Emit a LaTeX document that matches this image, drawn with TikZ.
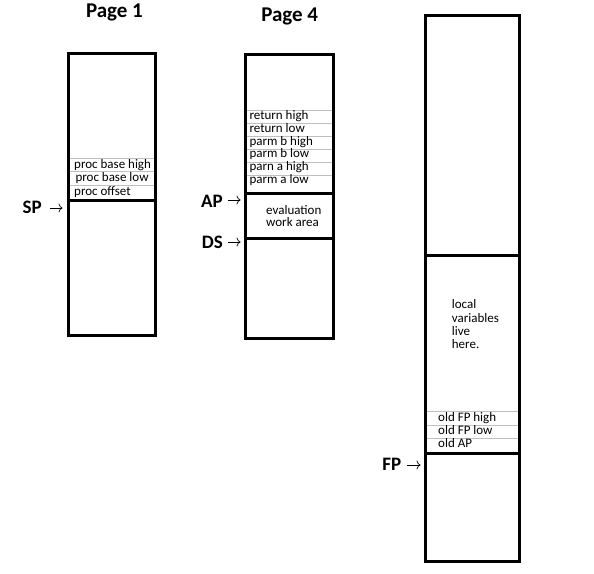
\documentclass[tikz,border=0pt]{standalone}
\usepackage{fontspec}
\setmainfont{Carlito}
\usetikzlibrary{arrows.meta}
\begin{document}
\begin{tikzpicture}[x=1pt,y=-1pt,
  box/.style={line width=3pt},
  row/.style={draw=black!25, line width=0.8pt},
  cell/.style={anchor=base west, font=\fontsize{13}{14}\selectfont, inner sep=0pt},
  title/.style={anchor=base, font=\fontsize{21}{22}\selectfont\bfseries, inner sep=0pt},
  ptr/.style={anchor=base east, font=\fontsize{19}{20}\selectfont\bfseries, inner sep=0pt},
  ptrarrow/.style={-{To[length=4pt,width=9pt]}, line width=0.7pt}]
\useasboundingbox (0,0) rectangle (594,573);

% titles
\node[title] (t1) at (114.5,17.5) {Page 1};
\node[title] (t4) at (289.7,21.7) {Page 4};

% ---------- Page 1 stack ----------
\draw[box] (68,53) rectangle (155.5,335.5);
\draw[box] (68,200.5) -- (155.5,200.5);
\foreach \yy in {158.3,171.7,185.3} \draw[row] (69.5,\yy) -- (154,\yy);
\node[cell] (pbh) at (74,168.3) {proc base high};
\node[cell] (pbl) at (75.3,181.7) {proc base low};
\node[cell] (pof) at (74,195.3) {proc offset};
\node[ptr] (sp) at (42,213) {SP};
\coordinate (spa) at (50,208);
\coordinate (spb) at (62.5,208);
\draw[ptrarrow] (spa) -- (spb);

% ---------- Page 4 stack ----------
\draw[box] (245.5,54.5) rectangle (333,338);
\draw[box] (245.5,193.2) -- (333,193.2);
\draw[box] (245.5,238.5) -- (333,238.5);
\foreach \yy in {110.7,123.3,136.3,149.3,162.3,175.3} \draw[row] (247,\yy) -- (331.5,\yy);
\node[cell] (rh) at (249.3,119.3) {return high};
\node[cell] (rl) at (249.3,132) {return low};
\node[cell] (pbh4) at (249.3,145) {parm b high};
\node[cell] (pbl4) at (249.3,157.8) {parm b low};
\node[cell] (pah) at (249.3,170.8) {parn a high};
\node[cell] (pal) at (249.3,183.8) {parm a low};
\node[cell] (ev) at (266,214) {evaluation};
\node[cell] (wa) at (266,226.8) {work area};
\node[ptr] (ap) at (223,207) {AP};
\node[ptr] (ds) at (223,248.5) {DS};
\coordinate (apa) at (228,200);
\coordinate (apb) at (240.5,200);
\draw[ptrarrow] (apa) -- (apb);
\coordinate (dsa) at (228,242);
\coordinate (dsb) at (240.5,242);
\draw[ptrarrow] (dsa) -- (dsb);

% ---------- right stack ----------
\draw[box] (425.5,15.3) rectangle (519.7,561.5);
\draw[box] (425.5,255.2) -- (519.7,255.2);
\draw[box] (425.5,453.8) -- (519.7,453.8);
\foreach \yy in {411.7,425,438.3} \draw[row] (427,\yy) -- (518,\yy);
\node[cell] (lv1) at (451.7,308.8) {local};
\node[cell] (lv2) at (451.7,322) {variables};
\node[cell] (lv3) at (451.7,335) {live};
\node[cell] (lv4) at (451.7,348) {here.};
\node[cell] (ofh) at (438,421.3) {old FP high};
\node[cell] (ofl) at (438,434.6) {old FP low};
\node[cell] (oap) at (438,447.8) {old AP};
\node[ptr] (fp) at (401.5,470.5) {FP};
\coordinate (fpa) at (407,465);
\coordinate (fpb) at (420.5,465);
\draw[ptrarrow] (fpa) -- (fpb);
\end{tikzpicture}
\end{document}
